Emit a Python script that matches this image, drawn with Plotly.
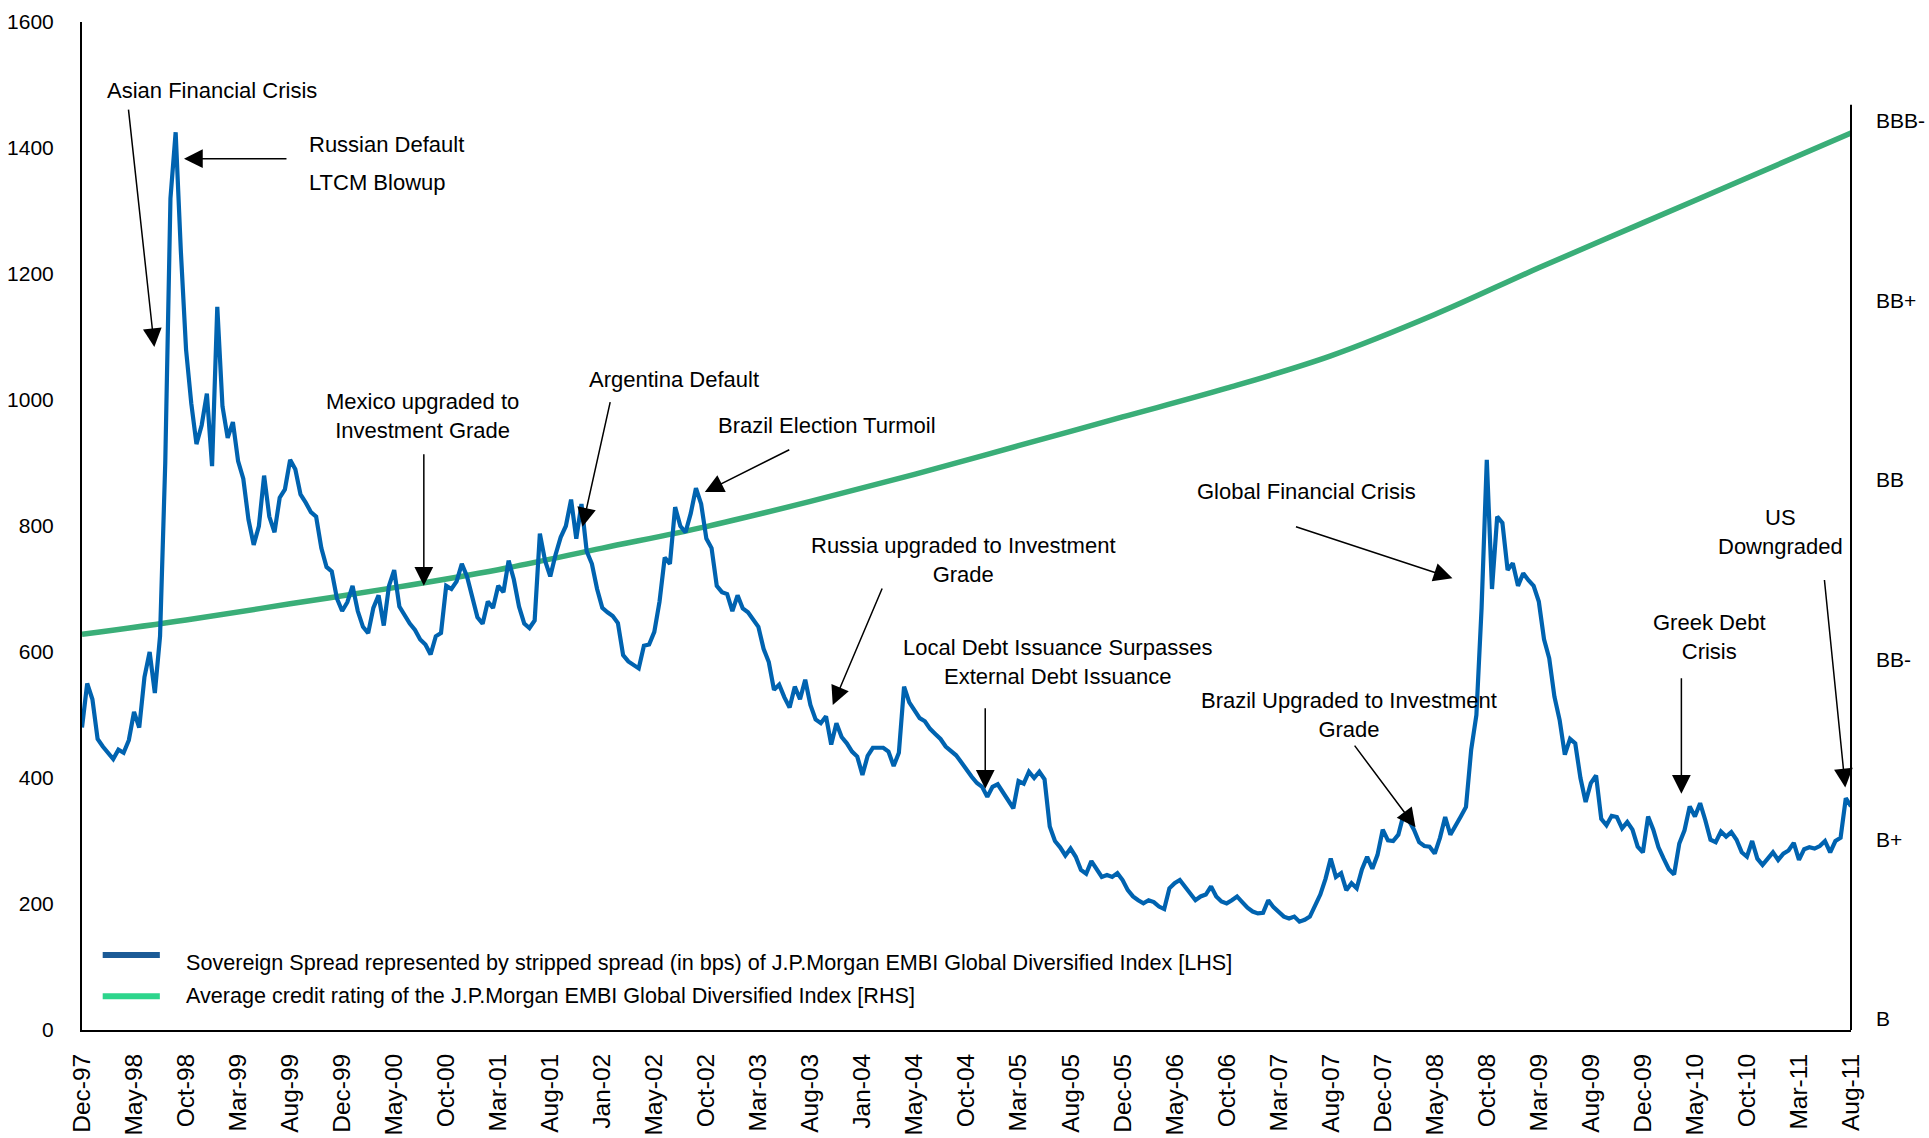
import plotly.graph_objects as go

# Axis labels along the time axis (one label every OBS_PER_LABEL observations)
tick_labels = ["Dec-97", "May-98", "Oct-98", "Mar-99", "Aug-99", "Dec-99", "May-00",
               "Oct-00", "Mar-01", "Aug-01", "Jan-02", "May-02", "Oct-02", "Mar-03",
               "Aug-03", "Jan-04", "May-04", "Oct-04", "Mar-05", "Aug-05", "Dec-05",
               "May-06", "Oct-06", "Mar-07", "Aug-07", "Dec-07", "May-08", "Oct-08",
               "Mar-09", "Aug-09", "Dec-09", "May-10", "Oct-10", "Mar-11", "Aug-11"]
OBS_PER_LABEL = 10

# EMBI Global Diversified stripped spread, bps
spread_bps = [
    480, 550, 525, 462, 450, 440, 430, 445, 440, 460,
    505, 480, 560, 600, 535, 625, 900, 1320, 1425, 1236,
    1080, 995, 930, 960, 1010, 895, 1148, 990, 940, 965,
    903, 875, 810, 770, 800, 880, 815, 790, 845, 858,
    905, 890, 850, 837, 822, 815, 765, 735, 728, 685,
    665, 679, 705, 665, 640, 630, 670, 690, 642, 705,
    730, 672, 658, 645, 635, 620, 612, 596, 625, 630,
    705, 700, 712, 740, 720, 690, 655, 645, 680, 670,
    705, 695, 745, 715, 672, 645, 638, 650, 788, 745,
    720, 754, 782, 800, 842, 780, 835, 760, 740, 700,
    670, 663, 657, 646, 595, 585, 580, 574, 610, 612,
    632, 680, 750, 740, 830, 800, 790, 820, 860, 835,
    780, 765, 705, 695, 692, 665, 690, 669, 663, 650,
    640, 605, 584, 540, 548, 528, 512, 545, 525, 556,
    516, 493, 487, 498, 453, 487, 465, 455, 442, 434,
    405, 435, 448, 448, 448, 442, 419, 440, 545, 520,
    508, 495, 490, 478, 470, 462, 450, 442, 436, 425,
    412, 402, 392, 386, 370, 386, 390, 378, 365, 352,
    395, 391, 410, 400, 410, 398, 323, 300, 290, 277,
    288, 275, 254, 248, 268, 255, 243, 246, 243, 249,
    238, 222, 212, 206, 201, 206, 203, 196, 192, 225,
    233, 238, 228, 217, 206, 212, 215, 228, 212, 204,
    201, 206, 212, 203, 194, 188, 185, 186, 206, 195,
    188, 180, 177, 180, 172, 175, 180, 196, 215, 240,
    272, 243, 249, 222, 233, 225, 255, 275, 256, 278,
    318, 301, 300, 310, 342, 333, 318, 298, 292, 291,
    280, 305, 338, 310, 326, 339, 354, 445, 500, 670,
    905, 700, 815, 805, 730, 741, 705, 725, 714, 705,
    680, 620, 590, 529, 492, 437, 462, 455, 400, 362,
    392, 404, 335, 325, 340, 338, 320, 330, 318, 291,
    282, 339, 318, 290, 272, 255, 247, 296, 317, 355,
    339, 360, 333, 302, 298, 315, 307, 314, 302, 282,
    275, 300, 272, 262, 272, 282, 270, 280, 285, 297,
    270, 287, 290, 288, 292, 300, 282, 300, 305, 368,
    355,
]

# Average credit rating (notch scale: 0 = B ... 5 = BBB-), read every second label
rating_names = ["B", "B+", "BB-", "BB", "BB+", "BBB-"]
rating_label_idx = [0, 2, 4, 6, 8, 10, 12, 14, 16, 18, 20, 22, 24, 26, 28, 30, 32, 34]
avg_rating = [2.14, 2.22, 2.31, 2.40, 2.50, 2.62, 2.74, 2.88, 3.03,
              3.19, 3.35, 3.51, 3.69, 3.92, 4.18, 4.43, 4.68, 4.93]

# Event call-outs: (text, label position [obs, bps], arrow tip [obs, bps], tail offset px)
events = [
    ("Asian Financial Crisis", (24.9, 1492), (13.9, 1084), (-26, -239)),
    ("Mexico upgraded to<br>Investment Grade", (65.5, 974), (65.7, 705), (0, -133)),
    ("Argentina Default", (113.7, 1033), (96.2, 799), (28, -126)),
    ("Brazil Election Turmoil", (143.1, 960), (119.7, 854), (86, -43)),
    ("Russia upgraded to Investment<br>Grade", (169.5, 746), (144.3, 516), (50, -118)),
    ("Local Debt Issuance Surpasses<br>External Debt Issuance", (187.5, 584), (173.6, 383), (0, -82)),
    ("Global Financial Crisis", (235.3, 854), (263.4, 717), (-158, -52)),
    ("Brazil Upgraded to Investment<br>Grade", (243.5, 500), (256.3, 322), (-62, -83)),
    ("Greek Debt<br>Crisis", (312.8, 624), (307.4, 375), (0, -117)),
    ("US<br>Downgraded", (326.5, 791), (338.9, 385), (-21, -209)),
]
russia_lines = ["Russian Default", "LTCM Blowup"]
russia_tip = (19.6, 1383)

legend_items = [
    ("Sovereign Spread represented by stripped spread (in bps) of J.P.Morgan EMBI Global Diversified Index [LHS]", "#1B5A96"),
    ("Average credit rating of the J.P.Morgan EMBI Global Diversified Index [RHS]", "#2DD58C"),
]

FONT = "Liberation Sans, Arial, sans-serif"
BLUE = "#0063B0"
GREEN = "#3AAE78"

fig = go.Figure()

fig.add_trace(go.Scatter(
    x=[k * OBS_PER_LABEL for k in rating_label_idx], y=avg_rating,
    mode="lines", line=dict(color=GREEN, width=5.5, shape="spline", smoothing=1.0),
    yaxis="y", showlegend=False, hoverinfo="skip"))

fig.add_trace(go.Scatter(
    x=list(range(len(spread_bps))), y=spread_bps,
    mode="lines", line=dict(color=BLUE, width=4.2),
    yaxis="y2", showlegend=False, hoverinfo="skip"))

n_last = (len(tick_labels) - 1) * OBS_PER_LABEL
rating_top = 5.087

ARROW = dict(showarrow=True, arrowhead=2, arrowsize=2.5, arrowwidth=1.5,
             arrowcolor="black", standoff=0)

annotations = []
for text, (lx, ly), (tx, ty), (ax, ay) in events:
    annotations.append(dict(x=lx, y=ly, xref="x", yref="y2", text=text, showarrow=False,
                            font=dict(family=FONT, size=22, color="black"), align="center"))
    annotations.append(dict(x=tx, y=ty, xref="x", yref="y2", text="", ax=ax, ay=ay, **ARROW))
for k, line in enumerate(russia_lines):
    annotations.append(dict(x=43.3, y=1406 - 60 * k, xref="x", yref="y2", text=line,
                            showarrow=False, xanchor="left",
                            font=dict(family=FONT, size=22, color="black")))
annotations.append(dict(x=russia_tip[0], y=russia_tip[1], xref="x", yref="y2", text="",
                        ax=104, ay=0, **ARROW))

shapes = [dict(type="line", xref="paper", yref="y", x0=1, x1=1, y0=-0.09, y1=rating_top,
               line=dict(color="black", width=2))]
legend_rows = [(0.0745, 0.0665), (0.0335, 0.0345)]
for (label, colr), (sy, ty) in zip(legend_items, legend_rows):
    shapes.append(dict(type="line", xref="paper", yref="paper", x0=0.0117, x1=0.044,
                       y0=sy, y1=sy, line=dict(color=colr, width=6)))
    annotations.append(dict(x=0.0577, y=ty, xref="paper", yref="paper", text=label,
                            showarrow=False, xanchor="left", yanchor="middle",
                            font=dict(family=FONT, size=21.6, color="black")))

fig.update_layout(
    width=1929, height=1138, autosize=False,
    margin=dict(l=82, r=78, t=22, b=108, pad=0),
    paper_bgcolor="white", plot_bgcolor="white",
    font=dict(family=FONT, color="black"),
    xaxis=dict(range=[0, n_last], automargin=False,
               tickmode="array",
               tickvals=[k * OBS_PER_LABEL for k in range(len(tick_labels))],
               ticktext=tick_labels, tickangle=-90,
               tickfont=dict(family=FONT, size=24.5, color="black"),
               ticks="", ticklabelstandoff=12,
               showline=True, linecolor="black", linewidth=2,
               showgrid=False, zeroline=False),
    yaxis=dict(side="right", range=[-0.0618, 5.548], automargin=False,
               tickmode="array", tickvals=list(range(len(rating_names))), ticktext=rating_names,
               tickfont=dict(family=FONT, size=21, color="black"),
               ticks="", ticklabelstandoff=24,
               showline=False, showgrid=False, zeroline=False),
    yaxis2=dict(overlaying="y", side="left", anchor="x", range=[0, 1600], dtick=200,
                automargin=False,
                tickfont=dict(family=FONT, size=21, color="black"),
                ticks="", ticklabelstandoff=22,
                showline=True, linecolor="black", linewidth=2,
                showgrid=False, zeroline=False),
    annotations=annotations,
    shapes=shapes,
)

fig.write_html("out.html")
